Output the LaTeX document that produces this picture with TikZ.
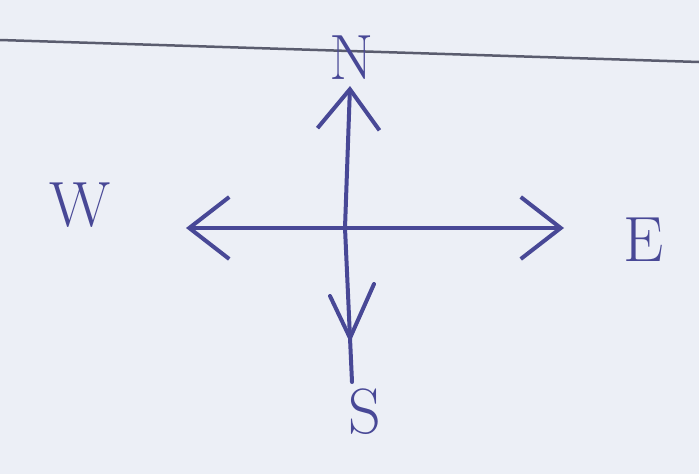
\documentclass[tikz,border=0pt]{standalone}
\usetikzlibrary{arrows.meta}
\definecolor{ink}{RGB}{72,72,150}
\definecolor{paper}{RGB}{236,239,246}
\definecolor{rule}{RGB}{90,92,110}
\tikzset{
  pen/.style={draw=ink, line width=4pt, line cap=round, line join=round},
  lbl/.style={text=ink, font=\fontsize{64}{70}\selectfont, inner sep=0pt},
  barb/.style={-{Straight Barb[length=40pt,width=62pt,line width=4pt]}}
}
\begin{document}
\begin{tikzpicture}[x=1pt,y=-1pt]
\fill[paper] (0,0) rectangle (699,474);
\useasboundingbox (0,0) rectangle (699,474);
\draw[rule, line width=2.5pt] (0,40) -- (699,62);
\coordinate (c) at (345,228);
\coordinate (top) at (350,86);
\coordinate (bot) at (352,382);
\coordinate (left) at (186,228);
\coordinate (right) at (564,228);
\coordinate (vtip) at (350,338);
\node[lbl] (N) at (352,58) {N};
\node[lbl] (W) at (80,205) {W};
\node[lbl] (E) at (644,240) {E};
\node[lbl] (S) at (365,412) {S};
\draw[pen, barb] (c) -- (top);
\draw[pen] (c) -- (bot);
\draw[pen, barb] (c) -- (left);
\draw[pen, barb] (c) -- (right);
\draw[pen] (330,296) -- (vtip) -- (374,284);
\end{tikzpicture}
\end{document}
